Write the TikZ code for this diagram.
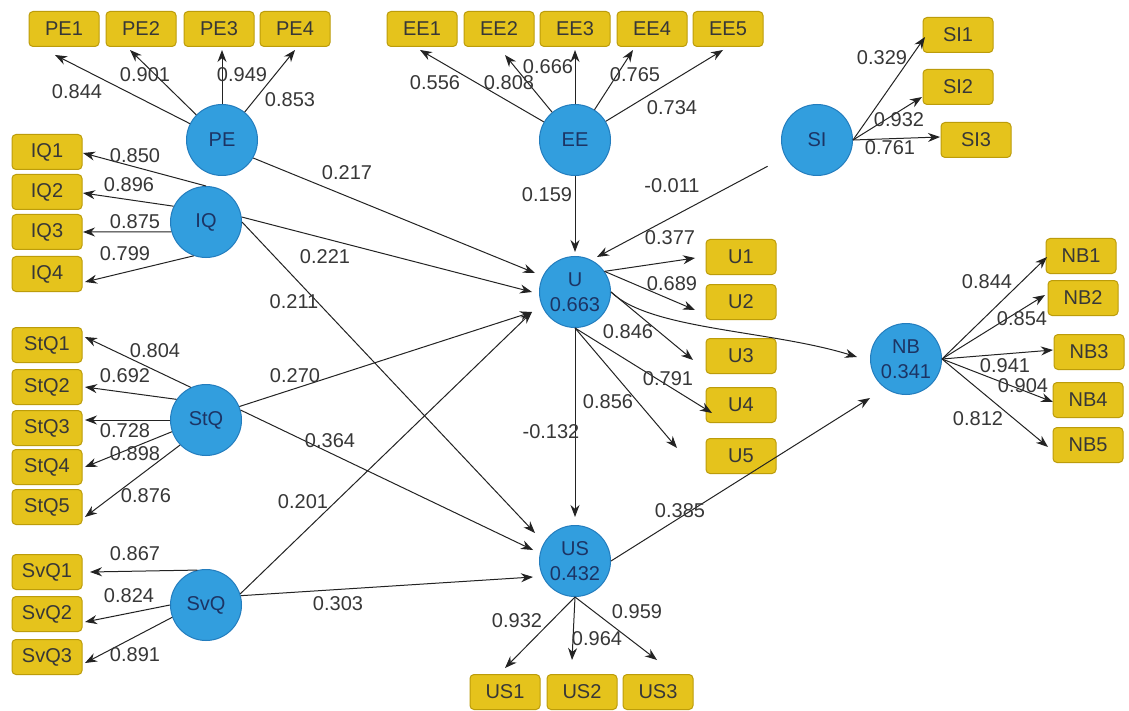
\documentclass[tikz,border=0pt]{standalone}
\usepackage{fontspec}
\setmainfont{Liberation Sans}
\usetikzlibrary{arrows.meta,calc}
\definecolor{boxfill}{RGB}{229,195,28}
\definecolor{boxline}{RGB}{188,156,10}
\definecolor{circfill}{RGB}{50,158,222}
\definecolor{circline}{RGB}{35,125,190}
\definecolor{circtext}{RGB}{28,52,100}
\definecolor{labtext}{RGB}{55,55,55}
\definecolor{linec}{RGB}{35,35,35}
\begin{document}
\begin{tikzpicture}[x=1pt,y=-1pt,
  ind/.style={draw=boxline,fill=boxfill,rounded corners=4pt,minimum width=70pt,minimum height=35pt,inner sep=0pt,line width=1pt,text=labtext,font=\fontsize{20}{24}\selectfont},
  lat/.style={circle,draw=circline,fill=circfill,minimum size=71pt,inner sep=0pt,line width=1pt,text=circtext,align=center,font=\fontsize{20}{25}\selectfont},
  lab/.style={inner sep=0pt,text=labtext,font=\fontsize{20}{24}\selectfont},
  arr/.style={draw=linec,line width=1pt,-{Stealth[length=12pt,width=9pt]}},
]
\useasboundingbox (0,0) rectangle (1129,711);
\fill[white] (0,0) rectangle (1129,711);

% latent variables
\node[lat] (PE) at (222,140) {PE};
\node[lat] (EE) at (575,140) {EE};
\node[lat] (SI) at (817,140) {SI};
\node[lat] (IQ) at (206,222) {IQ};
\node[lat] (StQ) at (206,420) {StQ};
\node[lat] (SvQ) at (206,605) {SvQ};
\node[lat] (U) at (575,292) {U\\0.663};
\node[lat] (US) at (575,561) {US\\0.432};
\node[lat] (NB) at (906,359) {NB\\0.341};

% indicators
\node[ind] (PE1) at (64,29) {PE1};
\node[ind] (PE2) at (141,29) {PE2};
\node[ind] (PE3) at (219,29) {PE3};
\node[ind] (PE4) at (295,29) {PE4};
\node[ind] (EE1) at (422,29) {EE1};
\node[ind] (EE2) at (499,29) {EE2};
\node[ind] (EE3) at (575,29) {EE3};
\node[ind] (EE4) at (652,29) {EE4};
\node[ind] (EE5) at (728,29) {EE5};
\node[ind] (SI1) at (958,35) {SI1};
\node[ind] (SI2) at (958,87) {SI2};
\node[ind] (SI3) at (976,140) {SI3};
\node[ind] (IQ1) at (47,152) {IQ1};
\node[ind] (IQ2) at (47,192) {IQ2};
\node[ind] (IQ3) at (47,232) {IQ3};
\node[ind] (IQ4) at (47,274) {IQ4};
\node[ind] (StQ1) at (47,345) {StQ1};
\node[ind] (StQ2) at (47,387) {StQ2};
\node[ind] (StQ3) at (47,428) {StQ3};
\node[ind] (StQ4) at (47,467) {StQ4};
\node[ind] (StQ5) at (47,507) {StQ5};
\node[ind] (SvQ1) at (47,572) {SvQ1};
\node[ind] (SvQ2) at (47,614) {SvQ2};
\node[ind] (SvQ3) at (47,657) {SvQ3};
\node[ind] (U1) at (741,257) {U1};
\node[ind] (U2) at (741,302) {U2};
\node[ind] (U3) at (741,356) {U3};
\node[ind] (U4) at (741,405) {U4};
\node[ind] (U5) at (741,456) {U5};
\node[ind] (NB1) at (1081,256) {NB1};
\node[ind] (NB2) at (1083,298) {NB2};
\node[ind] (NB3) at (1089,352) {NB3};
\node[ind] (NB4) at (1088,400) {NB4};
\node[ind] (NB5) at (1088,445) {NB5};
\node[ind] (US1) at (505,692) {US1};
\node[ind] (US2) at (582,692) {US2};
\node[ind] (US3) at (658,692) {US3};

% PE loadings
\draw[arr] (PE) -- ($(PE1)+(-9,26)$);
\draw[arr] (PE) -- ($(PE2)+(-11,21)$);
\draw[arr] (PE) -- ($(PE3)+(3,21)$);
\draw[arr] (PE) -- ($(PE4)+(0,21)$);
% EE loadings
\draw[arr] (EE) -- ($(EE1)+(-2,21)$);
\draw[arr] (EE) -- ($(EE2)+(6,26)$);
\draw[arr] (EE) -- ($(EE3)+(0,21)$);
\draw[arr] (EE) -- ($(EE4)+(-19,21)$);
\draw[arr] (EE) -- ($(EE5)+(-5,21)$);
% SI loadings
\draw[arr] (SI.east) -- ($(SI1)+(-33,2)$);
\draw[arr] (SI.east) -- ($(SI2)+(-36,10)$);
\draw[arr] (SI.east) -- ($(SI3)+(-36,-3)$);
% IQ loadings
\draw[arr] (IQ.north) -- ($(IQ1)+(36,1)$);
\draw[arr] (IQ.154) -- ($(IQ2)+(36,1)$);
\draw[arr] (IQ.196) -- ($(IQ3)+(36,0)$);
\draw[arr] (IQ.250) -- ($(IQ4)+(38,8)$);
% StQ loadings
\draw[arr] (StQ.115) -- ($(StQ1)+(38,-8)$);
\draw[arr] (StQ.145) -- ($(StQ2)+(38,0)$);
\draw[arr] (StQ.west) -- ($(StQ3)+(38,-8)$);
\draw[arr] (StQ.199) -- ($(StQ4)+(38,0)$);
\draw[arr] (StQ.224) -- ($(StQ5)+(38,10)$);
% SvQ loadings
\draw[arr] (SvQ.104) -- ($(SvQ1)+(43,0)$);
\draw[arr] (SvQ.west) -- ($(SvQ2)+(38,8)$);
\draw[arr] (SvQ.200) -- ($(SvQ3)+(38,6)$);
% U loadings
\draw[arr] (U.35) -- ($(U1)+(-46,1)$);
\draw[arr] (U.35) -- ($(U2)+(-46,8)$);
\draw[arr] (U.east) -- ($(U3)+(-48,4)$);
\draw[arr] (U.south) -- ($(U4)+(-29,8)$);
\draw[arr] (U.south) -- ($(U5)+(-64,-8)$);
% NB loadings
\draw[arr] (NB.east) -- ($(NB1)+(-34,1)$);
\draw[arr] (NB.east) -- ($(NB2)+(-38,-3)$);
\draw[arr] (NB.east) -- ($(NB3)+(-36,-2)$);
\draw[arr] (NB.east) -- ($(NB4)+(-35,2)$);
\draw[arr] (NB.east) -- ($(NB5)+(-40,2)$);
% US loadings
\draw[arr] (US.south) -- ($(US1)+(0,-24)$);
\draw[arr] (US.south) -- ($(US2)+(-10,-32)$);
\draw[arr] (US.south) -- ($(US3)+(-1,-32)$);

% structural paths
\draw[arr] (PE.-30) -- ($(U)+(-40,-19)$);
\draw[arr] (IQ.8) -- ($(U)+(-43,0)$);
\draw[arr] (StQ.22) -- ($(U)+(-43,20)$);
\draw[arr] (SvQ.18) -- ($(U)+(-43,20)$);
\draw[arr] (EE.south) -- ($(U)+(0,-40)$);
\draw[arr,shorten <=20pt] (SI) -- ($(U)+(22,-35)$);
\draw[arr] (IQ.east) -- ($(US)+(-40,-28)$);
\draw[arr] (StQ.16) -- ($(US)+(-42,-11)$);
\draw[arr] (SvQ.15) -- ($(US)+(-42,16)$);
\draw[arr] (U.south) -- ($(US)+(0,-44)$);
\draw[arr] (U.east) .. controls (650,330) and (770,330) .. ($(NB)+(-49,-2)$);
\draw[arr] (US.east) -- ($(NB)+(-36,39)$);

% loading labels
\node[lab] (lPE1) at (77,92) {0.844};
\node[lab] (lPE2) at (145,75) {0.901};
\node[lab] (lPE3) at (242,75) {0.949};
\node[lab] (lPE4) at (290,100) {0.853};
\node[lab] (lEE1) at (435,83) {0.556};
\node[lab] (lEE2) at (509,83) {0.808};
\node[lab] (lEE3) at (548,67) {0.666};
\node[lab] (lEE4) at (635,75) {0.765};
\node[lab] (lEE5) at (672,108) {0.734};
\node[lab] (lSI1) at (882,58) {0.329};
\node[lab] (lSI2) at (899,120) {0.932};
\node[lab] (lSI3) at (890,148) {0.761};
\node[lab] (lIQ1) at (135,156) {0.850};
\node[lab] (lIQ2) at (129,185) {0.896};
\node[lab] (lIQ3) at (135,222) {0.875};
\node[lab] (lIQ4) at (125,254) {0.799};
\node[lab] (lStQ1) at (155,351) {0.804};
\node[lab] (lStQ2) at (125,376) {0.692};
\node[lab] (lStQ3) at (125,431) {0.728};
\node[lab] (lStQ4) at (135,454) {0.898};
\node[lab] (lStQ5) at (146,496) {0.876};
\node[lab] (lSvQ1) at (135,554) {0.867};
\node[lab] (lSvQ2) at (129,596) {0.824};
\node[lab] (lSvQ3) at (135,655) {0.891};
\node[lab] (lU1) at (670,238) {0.377};
\node[lab] (lU2) at (672,284) {0.689};
\node[lab] (lU3) at (628,332) {0.846};
\node[lab] (lU4) at (668,379) {0.791};
\node[lab] (lU5) at (608,402) {0.856};
\node[lab] (lNB1) at (987,282) {0.844};
\node[lab] (lNB2) at (1022,319) {0.854};
\node[lab] (lNB3) at (1005,366) {0.941};
\node[lab] (lNB4) at (1023,386) {0.904};
\node[lab] (lNB5) at (978,419) {0.812};
\node[lab] (lUS1) at (517,621) {0.932};
\node[lab] (lUS2) at (597,639) {0.964};
\node[lab] (lUS3) at (637,612) {0.959};
% path labels
\node[lab] (pPEU) at (347,173) {0.217};
\node[lab] (pIQU) at (325,257) {0.221};
\node[lab] (pIQUS) at (294,302) {0.211};
\node[lab] (pStQU) at (295,376) {0.270};
\node[lab] (pStQUS) at (330,441) {0.364};
\node[lab] (pSvQU) at (303,502) {0.201};
\node[lab] (pSvQUS) at (338,604) {0.303};
\node[lab] (pEEU) at (547,195) {0.159};
\node[lab] (pSIU) at (672,186) {-0.011};
\node[lab] (pUUS) at (551,432) {-0.132};
\node[lab] (pUSNB) at (680,511) {0.385};
\end{tikzpicture}
\end{document}
